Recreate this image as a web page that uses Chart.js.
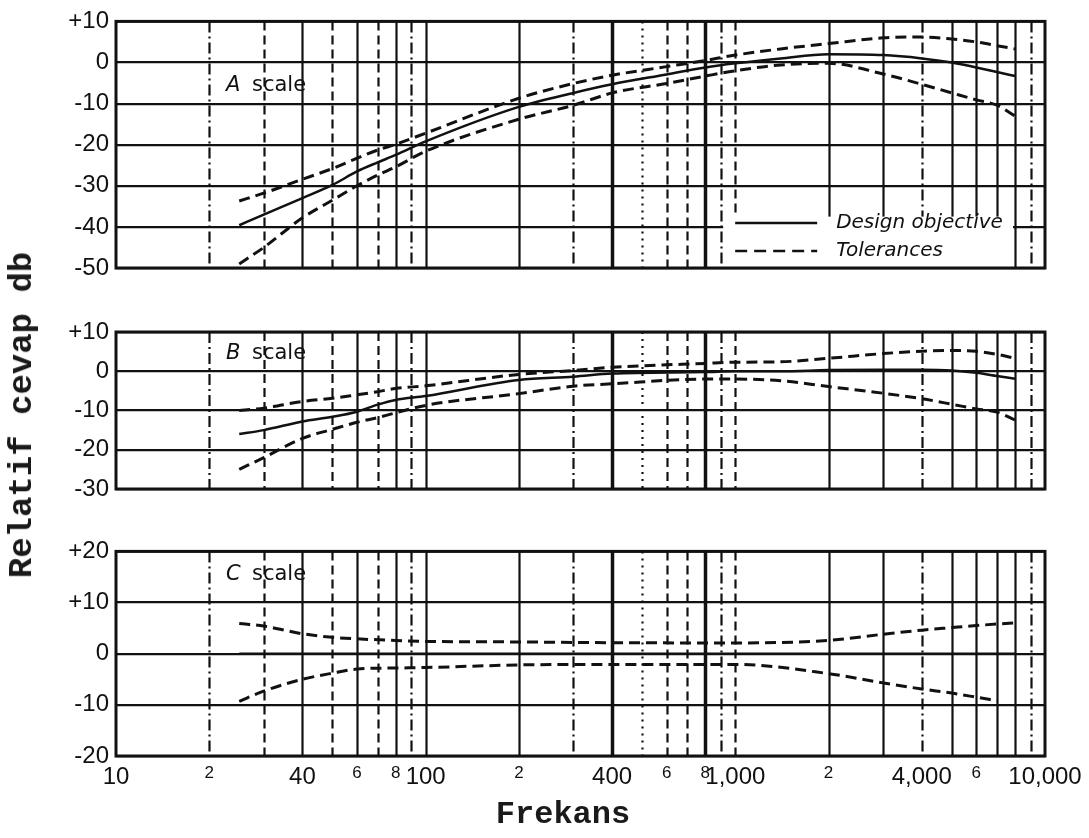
<!DOCTYPE html>
<html><head><meta charset="utf-8">
<script src="https://cdn.jsdelivr.net/npm/chart.js@4"></script>
<style>
html,body{margin:0;padding:0;background:#fff;}
#wrap{position:relative;width:1089px;height:838px;overflow:hidden;background:#fff;}
#wrap canvas{position:absolute;left:0;}
.t{position:absolute;white-space:nowrap;color:#1a1a1a;font-family:'Liberation Mono','DejaVu Sans Mono',monospace;line-height:1;}
</style></head><body>
<div id="wrap">
<canvas id="cA" width="1089" height="330" style="top:0px;width:1089px;height:330px"></canvas>
<canvas id="cB" width="1089" height="240" style="top:310px;width:1089px;height:240px"></canvas>
<canvas id="cC" width="1089" height="308" style="top:530px;width:1089px;height:308px"></canvas>
<div class="t" style="left:22px;top:415px;font-size:34px;font-weight:bold;transform:translate(-50%,-50%) rotate(-90deg);">Relatif cevap db</div>
<div class="t" style="left:563px;top:815px;font-size:32px;font-weight:bold;transform:translate(-50%,-50%);">Frekans</div>
</div>
<script>
// ---------- data ----------
const freqTicks = [10, 20, 40, 60, 80, 100, 200, 400, 600, 800, 1000, 2000, 4000, 6000, 10000];
const freqTickLabels = ['10', '2', '40', '6', '8', '100', '2', '400', '6', '8', '1,000', '2', '4,000', '6', '10,000'];
const minorTickLabels = ['2', '6', '8'];
const gridFreqs = [20, 30, 40, 50, 60, 70, 80, 90, 100, 200, 300, 400, 500, 600, 700, 800, 900, 1000, 2000, 3000, 4000, 5000, 6000, 7000, 8000, 9000];

const panelLetters = ['A', 'B', 'C'];
const scaleWord = 'scale';
const legendLabels = ['Design objective', 'Tolerances'];

// A scale
const aFreq   = [25, 30, 40, 50, 60, 70, 80, 100, 200, 300, 400, 600, 800, 1000, 1400, 2000, 3000, 4000, 5000, 6000, 7000, 8000];
const aDesign = [-39.6, -37, -33, -29.8, -26.5, -24.3, -22.5, -19.2, -10.8, -7.4, -5.3, -2.9, -1.2, -0.2, 1, 2, 1.8, 1, 0, -1.2, -2.3, -3.3];
const aUpper  = [-33.7, -31.8, -28.4, -25.8, -23.3, -21.3, -19.9, -17.2, -8.7, -5.1, -3.1, -1.0, 0.5, 1.8, 3.3, 4.6, 6, 6.2, 5.7, 5, 4.1, 3.3];
const aLower  = [-49, -45, -37.8, -33.5, -30, -27.4, -25.4, -21.6, -13.8, -10.4, -7.4, -5.1, -3.3, -2, -0.6, -0.2, -2.8, -5.3, -7.4, -9.1, -10.4, -13];

// B scale
const bFreq   = [25, 30, 40, 50, 60, 70, 80, 100, 200, 300, 400, 800, 1000, 1400, 2000, 3000, 4000, 5000, 6000, 7000, 8000];
const bDesign = [-16, -15, -12.8, -11.6, -10.3, -8.5, -7.3, -6.3, -2.2, -1.4, -0.6, -0.2, 0, 0, 0.3, 0.4, 0.4, 0.2, -0.4, -1.2, -1.9];
const bUpper  = [-10, -9.4, -7.7, -6.9, -6, -5.2, -4.4, -3.7, -0.8, 0.2, 1, 2, 2.3, 2.4, 3.3, 4.5, 5.1, 5.3, 5.1, 4.3, 3.3];
const bLower  = [-25, -22, -17.1, -14.8, -13, -11.8, -10.6, -8.7, -5.7, -3.8, -3.2, -2, -2, -2.4, -3.9, -5.6, -7, -8.4, -9.6, -10.4, -12.4];

// C scale
const cFreq   = [25, 30, 40, 50, 60, 80, 100, 200, 300, 1000, 2000, 3000, 4000, 5000, 6000, 7000, 8000];
const cDesign = [0, 0, 0, 0, 0, 0, 0, 0, 0, 0, 0, 0, 0, 0, 0, 0, 0];
const cUpper  = [5.9, 5.4, 3.9, 3.2, 2.9, 2.6, 2.4, 2.3, 2.2, 2.1, 2.6, 3.8, 4.6, 5.1, 5.5, 5.8, 6.0];
const cLower  = [-9.3, -7.3, -5.0, -3.8, -3.0, -2.8, -2.7, -2.2, -2.1, -2.1, -3.9, -5.7, -6.9, -7.7, -8.5, -9.2, null];

// ---------- styles ----------
const INK = '#111111';
const TICK_FONT = "'Liberation Sans', Arial, sans-serif";
const LABEL_FONT = "'DejaVu Sans', sans-serif";
const gridKinds = ['dashdot','dash','solid','dash','solid','dash','solid','dashdot','solid','solid','dashdot','heavy','dot','dash','dash','heavy','dashdot','dash','solid','solid','dashdot','solid','solid','solid','solid','dashdot'];
const dashMap = { solid: [], heavy: [], dash: [9, 5], dashdot: [11, 4, 2, 4], dot: [2, 5] };

function pts(fs, vs) {
  return fs.map((f, i) => ({ x: f, y: vs[i] })).filter(p => p.y !== null && p.y !== undefined);
}

const panelPlugin = {
  id: 'panel',
  beforeDatasetsDraw(chart, args, opts) {
    const { ctx, chartArea: a, scales: { x, y } } = chart;
    ctx.save();
    ctx.strokeStyle = INK;
    gridFreqs.forEach((f, i) => {
      const kind = gridKinds[i];
      const px = Math.round(x.getPixelForValue(f)) + 0.5;
      ctx.lineWidth = kind === 'heavy' ? 3.5 : 2.2;
      ctx.setLineDash(dashMap[kind]);
      ctx.beginPath();
      ctx.moveTo(px, a.top);
      ctx.lineTo(px, a.bottom);
      ctx.stroke();
    });
    ctx.setLineDash([]);
    if (opts.legend) {
      const lx = x.getPixelForValue(900), rx = x.getPixelForValue(8000);
      const ty = y.getPixelForValue(-37.5);
      ctx.fillStyle = '#fff';
      ctx.fillRect(lx + 2, ty, rx - lx - 4, a.bottom - ty);
    }
    ctx.restore();
  },
  afterDatasetsDraw(chart, args, opts) {
    const { ctx, chartArea: a, scales: { x, y } } = chart;
    ctx.save();
    ctx.strokeStyle = INK;
    ctx.fillStyle = INK;
    ctx.lineWidth = 3;
    ctx.strokeRect(a.left, a.top, a.right - a.left, a.bottom - a.top);
    // panel label
    const ly = y.getPixelForValue(opts.labelDb);
    ctx.textBaseline = 'middle';
    ctx.textAlign = 'left';
    ctx.font = 'italic 21px ' + LABEL_FONT;
    ctx.fillText(opts.letter, a.left + 110, ly);
    ctx.font = '21px ' + LABEL_FONT;
    ctx.fillText(scaleWord, a.left + 136, ly);
    if (opts.legend) {
      const lx = x.getPixelForValue(900);
      const rows = [a.bottom - 45, a.bottom - 17];
      ctx.lineWidth = 2.6;
      ctx.setLineDash([]);
      ctx.beginPath(); ctx.moveTo(lx + 14, rows[0]); ctx.lineTo(lx + 96, rows[0]); ctx.stroke();
      ctx.setLineDash([12, 7]);
      ctx.beginPath(); ctx.moveTo(lx + 14, rows[1]); ctx.lineTo(lx + 96, rows[1]); ctx.stroke();
      ctx.setLineDash([]);
      ctx.font = 'italic 20px ' + LABEL_FONT;
      ctx.fillText(legendLabels[0], lx + 115, rows[0]);
      ctx.fillText(legendLabels[1], lx + 115, rows[1]);
    }
    ctx.restore();
  }
};

function ds(label, fs, vs, dash) {
  return {
    label: label,
    data: pts(fs, vs),
    borderColor: INK,
    borderWidth: dash.length ? 3 : 2.5,
    borderDash: dash,
    pointRadius: 0,
    fill: false,
    cubicInterpolationMode: 'monotone'
  };
}

function tickFont(c) {
  let small = false;
  if (c && c.tick) {
    const idx = freqTicks.indexOf(c.tick.value);
    small = idx >= 0 && minorTickLabels.includes(freqTickLabels[idx]);
  }
  return { family: TICK_FONT, size: small ? 17 : 24 };
}

function panelChart(id, o) {
  return new Chart(document.getElementById(id), {
    type: 'line',
    data: {
      datasets: [
        ds(legendLabels[0], o.freq, o.design, []),
        ds(legendLabels[1] + ' +', o.freq, o.upper, [11, 6]),
        ds(legendLabels[1] + ' -', o.freq, o.lower, [11, 6])
      ]
    },
    options: {
      responsive: false,
      animation: false,
      devicePixelRatio: 1,
      layout: { padding: o.padding },
      plugins: {
        legend: { display: false },
        tooltip: { enabled: false },
        panel: { letter: o.letter, labelDb: o.labelDb, legend: !!o.legend }
      },
      scales: {
        x: {
          type: 'logarithmic',
          min: 10, max: 10000,
          display: o.showX,
          grid: { display: false, drawTicks: false },
          border: { display: false },
          afterBuildTicks: s => { s.ticks = freqTicks.map(v => ({ value: v })); },
          afterFit: s => { s.height = 40; },
          ticks: {
            autoSkip: false, maxRotation: 0, minRotation: 0, padding: 7, color: INK,
            font: tickFont,
            callback: v => { const i = freqTicks.indexOf(v); return i >= 0 ? freqTickLabels[i] : ''; }
          }
        },
        y: {
          min: o.min, max: o.max,
          afterFit: s => { s.width = 116; },
          grid: { color: INK, lineWidth: 2.2, drawTicks: false },
          border: { display: false },
          ticks: {
            stepSize: 10, padding: 7, color: INK,
            font: { family: TICK_FONT, size: 24 },
            callback: v => (v > 0 ? '+' + v : String(v))
          }
        }
      }
    },
    plugins: [panelPlugin]
  });
}

panelChart('cA', { freq: aFreq, design: aDesign, upper: aUpper, lower: aLower, min: -50, max: 10,
  padding: { top: 14, bottom: 22, left: 0, right: 44 }, showX: false, letter: panelLetters[0], labelDb: -5.5, legend: true });
panelChart('cB', { freq: bFreq, design: bDesign, upper: bUpper, lower: bLower, min: -30, max: 10,
  padding: { top: 22, bottom: 21, left: 0, right: 44 }, showX: false, letter: panelLetters[1], labelDb: 4.5 });
panelChart('cC', { freq: cFreq, design: cDesign, upper: cUpper, lower: cLower, min: -20, max: 20,
  padding: { top: 20, bottom: 42, left: 0, right: 44 }, showX: true, letter: panelLetters[2], labelDb: 15.5 });
</script>
</body></html>
